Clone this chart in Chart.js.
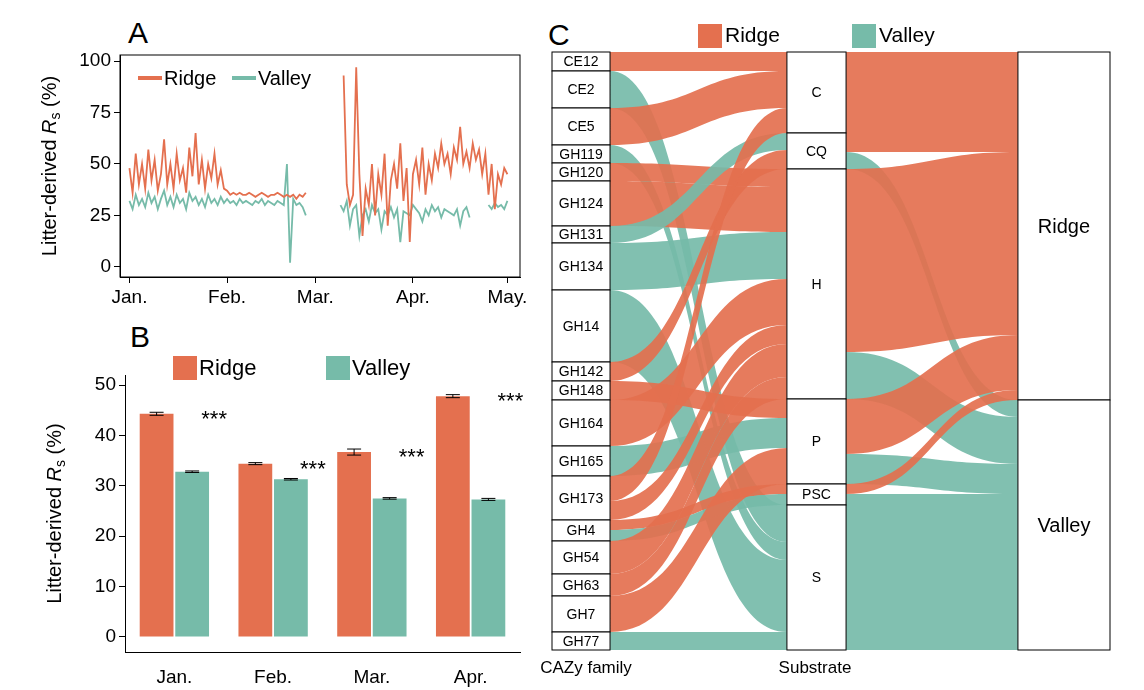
<!DOCTYPE html>
<html><head><meta charset="utf-8">
<script src="https://cdn.jsdelivr.net/npm/chart.js@4"></script>
<style>
body{margin:0;background:#fff;width:1144px;height:690px;overflow:hidden;font-family:Arial,"Liberation Sans",sans-serif}
canvas{position:absolute}
.lab{position:absolute;font-size:30px;color:#000}
</style></head><body>
<div class="lab" style="left:128px;top:16px">A</div>
<div class="lab" style="left:130px;top:320px">B</div>
<div class="lab" style="left:548px;top:18px">C</div>
<canvas id="cA" width="540" height="310" style="left:0;top:0"></canvas>
<canvas id="cB" width="540" height="370" style="left:0;top:320px"></canvas>
<canvas id="cC" width="614" height="690" style="left:530px;top:0"></canvas>
<script>
var RED = "#E4704F", TEAL = "#76BBA9";
var FONT = "Arial, 'Liberation Sans', sans-serif";

// ---- panel A: daily litter-derived Rs (day 0 = Jan 1)
var monthTicks = [0, 31, 59, 90, 120];
var monthLabels = ["Jan.", "Feb.", "Mar.", "Apr.", "May."];
var ridgeDaily = [48,36,55,40,50,38,57,42,52,37,45,62,40,50,38,55,42,48,36,58,44,65,40,52,38,50,43,55,40,47,38,
  37,35,36,35,36,35,35,36,35,34,35,36,35,34,35,35,36,35,34,35,34,35,33,35,34,36,
  null,null,null,null,null,null,null,null,null,null,null,
  93,40,30,35,97,45,15,38,30,50,25,45,35,55,20,42,50,38,60,32,48,12,45,52,40,58,35,50,42,55,
  48,60,50,55,45,58,52,68,50,56,48,60,52,57,45,55,35,50,28,45,40,48,45];
var valleyDaily = [32,28,35,30,33,29,36,31,34,28,33,37,30,34,29,35,31,33,28,36,32,34,30,33,29,35,31,33,30,34,31,
  33,31,32,30,33,31,32,31,30,32,31,33,30,32,31,30,32,31,30,50,2,33,30,31,29,25,
  null,null,null,null,null,null,null,null,null,null,
  30,27,32,20,28,30,15,25,28,22,30,26,28,18,27,25,29,24,28,12,27,26,25,30,28,26,22,28,25,30,
  27,29,24,28,27,26,25,28,20,27,29,24,null,null,null,null,null,30,28,31,29,30,28,32];

// ---- panel B: monthly means
var months = ["Jan.", "Feb.", "Mar.", "Apr."];
var ridgeMean = [44.3, 34.4, 36.7, 47.8];
var ridgeErr = [0.3, 0.2, 0.6, 0.3];
var valleyMean = [32.8, 31.3, 27.5, 27.3];
var valleyErr = [0.15, 0.15, 0.15, 0.2];
var signif = ["***", "***", "***", "***"];

// ---- panel C: CAZy family -> substrate -> site
var families = ["CE12","CE2","CE5","GH119","GH120","GH124","GH131","GH134","GH14","GH142","GH148","GH164","GH165","GH173","GH4","GH54","GH63","GH7","GH77"];
var substrates = ["C","CQ","H","P","PSC","S"];
var sites = ["Ridge","Valley"];
var flowFamily =    ["CE12","CE2","CE5","GH119","GH120","GH124","GH131","GH134","GH14","GH142","GH148","GH164","GH165","GH173","GH173","GH4","GH4","GH54","GH63","GH7","GH77"];
var flowSubstrate = ["C","S","C","S","H","H","CQ","H","S","CQ","P","H","P","C","H","PSC","PSC","H","H","P","S"];
var flowSite =      ["Ridge","Valley","Ridge","Valley","Ridge","Ridge","Valley","Valley","Valley","Ridge","Ridge","Ridge","Valley","Ridge","Ridge","Ridge","Valley","Ridge","Ridge","Ridge","Valley"];
var flowValue =     [19,37,37,18,18,45,17,47,72,19,19,46,30,25,19,10,11,33,22,36,18];

function yTitle(ctx, x, y) {
  ctx.save();
  ctx.translate(x, y); ctx.rotate(-Math.PI/2);
  ctx.fillStyle = "#000"; ctx.textBaseline = "middle";
  var parts = [["20px " + FONT, "Litter-derived ", 0], ["italic 20px " + FONT, "R", 0], ["14px " + FONT, "s", 6], ["20px " + FONT, " (%)", 0]];
  var w = 0;
  parts.forEach(function(p){ ctx.font = p[0]; w += ctx.measureText(p[1]).width; });
  var cx = -w/2;
  parts.forEach(function(p){ ctx.font = p[0]; ctx.fillText(p[1], cx, p[2]); cx += ctx.measureText(p[1]).width; });
  ctx.restore();
}

var tickFont = {family: FONT, size: 19};

// ===== A
var ptsR = ridgeDaily.map(function(v,i){ return {x:i, y:v}; });
var ptsV = valleyDaily.map(function(v,i){ return {x:i, y:v}; });
new Chart("cA", {
  type: "line",
  data: {datasets: [
    {label:"Ridge", data: ptsR, borderColor: RED, borderWidth: 1.8, pointRadius: 0, tension: 0, spanGaps: false},
    {label:"Valley", data: ptsV, borderColor: TEAL, borderWidth: 1.8, pointRadius: 0, tension: 0, spanGaps: false}
  ]},
  options: {
    responsive: false, animation: false, devicePixelRatio: 1,
    layout: {padding: {left: 40, right: 20, top: 55}},
    plugins: {legend: {display: false}, tooltip: {enabled: false}},
    scales: {
      x: {type: "linear", min: -3, max: 124, grid: {drawOnChartArea: false, color: "#000", tickLength: 6},
        border: {color: "#000"},
        afterBuildTicks: function(s){ s.ticks = monthTicks.map(function(v){ return {value: v}; }); },
        afterFit: function(s){ s.height = 33; },
        ticks: {color: "#000", font: tickFont, maxRotation: 0, autoSkip: false, callback: function(v){ return monthLabels[monthTicks.indexOf(v)]; }}},
      y: {min: -5, max: 103, grid: {drawOnChartArea: false, color: "#000", tickLength: 6}, border: {color: "#000"},
        afterBuildTicks: function(s){ s.ticks = [0,25,50,75,100].map(function(v){ return {value: v}; }); },
        afterFit: function(s){ s.width = 80; },
        ticks: {color: "#000", font: tickFont}}
    }
  },
  plugins: [{id: "decoA", afterDraw: function(c){
    var ctx = c.ctx, a = c.chartArea;
    ctx.save(); ctx.strokeStyle = "#000"; ctx.lineWidth = 1;
    ctx.strokeRect(a.left, a.top, a.right - a.left, a.bottom - a.top);
    ctx.font = "20px " + FONT; ctx.textBaseline = "middle"; ctx.fillStyle = "#000";
    ctx.lineWidth = 4;
    ctx.strokeStyle = RED; ctx.beginPath(); ctx.moveTo(138, 78); ctx.lineTo(162, 78); ctx.stroke();
    ctx.fillText("Ridge", 164, 79);
    ctx.strokeStyle = TEAL; ctx.beginPath(); ctx.moveTo(232, 78); ctx.lineTo(256, 78); ctx.stroke();
    ctx.fillText("Valley", 258, 79);
    ctx.restore();
    yTitle(ctx, 50, (a.top + a.bottom)/2);
  }}]
});

// ===== B
new Chart("cB", {
  type: "bar",
  data: {labels: months, datasets: [
    {label: "Ridge", data: ridgeMean, backgroundColor: RED},
    {label: "Valley", data: valleyMean, backgroundColor: TEAL}
  ]},
  options: {
    responsive: false, animation: false, devicePixelRatio: 1,
    layout: {padding: {left: 40, right: 20, top: 55}},
    categoryPercentage: 0.72, barPercentage: 0.95,
    plugins: {legend: {display: false}, tooltip: {enabled: false}},
    scales: {
      x: {grid: {display: false, color: "#000", tickLength: 6}, border: {color: "#000"},
        afterFit: function(s){ s.height = 38; },
        ticks: {color: "#000", font: tickFont, padding: 8, maxRotation: 0}},
      y: {min: -3, max: 52, grid: {drawOnChartArea: false, color: "#000", tickLength: 6}, border: {color: "#000"},
        afterBuildTicks: function(s){ s.ticks = [0,10,20,30,40,50].map(function(v){ return {value: v}; }); },
        afterFit: function(s){ s.width = 85; },
        ticks: {color: "#000", font: tickFont}}
    }
  },
  plugins: [{id: "decoB", afterDatasetsDraw: function(c){
    var ctx = c.ctx, a = c.chartArea, ys = c.scales.y;
    ctx.save(); ctx.strokeStyle = "#000"; ctx.lineWidth = 1;
    [[0, ridgeMean, ridgeErr], [1, valleyMean, valleyErr]].forEach(function(d){
      c.getDatasetMeta(d[0]).data.forEach(function(b, i){
        var t = ys.getPixelForValue(d[1][i] + d[2][i]), btm = ys.getPixelForValue(d[1][i] - d[2][i]);
        ctx.beginPath();
        ctx.moveTo(b.x - 7, t); ctx.lineTo(b.x + 7, t);
        ctx.moveTo(b.x - 7, btm); ctx.lineTo(b.x + 7, btm);
        ctx.moveTo(b.x, t); ctx.lineTo(b.x, btm); ctx.stroke();
      });
    });
    ctx.fillStyle = "#000"; ctx.font = "22px " + FONT; ctx.textAlign = "center";
    c.getDatasetMeta(1).data.forEach(function(b, i){
      var top = Math.max(ridgeMean[i], valleyMean[i]);
      ctx.fillText(signif[i], b.x + 22, ys.getPixelForValue(top) + 12);
    });
    ctx.textAlign = "left"; ctx.textBaseline = "middle";
    ctx.fillStyle = RED; ctx.fillRect(173, 36, 24, 24);
    ctx.fillStyle = TEAL; ctx.fillRect(326, 36, 24, 24);
    ctx.fillStyle = "#000";
    ctx.fillText("Ridge", 199, 49); ctx.fillText("Valley", 352, 49);
    ctx.restore();
    yTitle(ctx, 55, (a.top + a.bottom)/2);
  }}]
});

// ===== C
var colX = [[0, 1.04], [4.21, 5.27], [8.35, 10]];
function totals(keys, field) {
  var t = {};
  keys.forEach(function(k){ t[k] = 0; });
  flowValue.forEach(function(v, i){ t[field[i]] += v; });
  return t;
}
var famTot = totals(families, flowFamily), subTot = totals(substrates, flowSubstrate), siteTot = totals(sites, flowSite);
var grand = flowValue.reduce(function(a, b){ return a + b; }, 0);

new Chart("cC", {
  type: "scatter",
  data: {datasets: [{data: []}]},
  options: {
    responsive: false, animation: false, devicePixelRatio: 1,
    layout: {padding: {left: 22, right: 34, top: 52, bottom: 40}},
    plugins: {legend: {display: false}, tooltip: {enabled: false}},
    scales: {
      x: {type: "linear", min: 0, max: 10, display: false},
      y: {min: 0, max: grand, reverse: true, display: false}
    }
  },
  plugins: [{id: "alluvial", afterDatasetsDraw: function(c){
    var ctx = c.ctx, xs = c.scales.x, ys = c.scales.y;
    function starts(keys, tot){ var s = {}, acc = 0; keys.forEach(function(k){ s[k] = acc; acc += tot[k]; }); return s; }
    var famS = starts(families, famTot), subS = starts(substrates, subTot), siteS = starts(sites, siteTot);
    function ribbon(x0, a0, x1, a1, v, col){
      var px0 = xs.getPixelForValue(x0), px1 = xs.getPixelForValue(x1), mx = (px0 + px1)/2;
      var t0 = ys.getPixelForValue(a0), b0 = ys.getPixelForValue(a0 + v);
      var t1 = ys.getPixelForValue(a1), b1 = ys.getPixelForValue(a1 + v);
      ctx.beginPath();
      ctx.moveTo(px0, t0); ctx.bezierCurveTo(mx, t0, mx, t1, px1, t1);
      ctx.lineTo(px1, b1); ctx.bezierCurveTo(mx, b1, mx, b0, px0, b0);
      ctx.closePath(); ctx.fillStyle = col; ctx.globalAlpha = 0.92; ctx.fill(); ctx.globalAlpha = 1;
    }
    ctx.save();
    var famOff = {}, subInOff = {};
    families.forEach(function(k){ famOff[k] = famS[k]; });
    substrates.forEach(function(k){ subInOff[k] = subS[k]; });
    var order = flowValue.map(function(v, i){ return i; });
    order.sort(function(a, b){ return families.indexOf(flowFamily[a]) - families.indexOf(flowFamily[b]); });
    order.forEach(function(i){
      var f = flowFamily[i], s = flowSubstrate[i], v = flowValue[i];
      ribbon(colX[0][1], famOff[f], colX[1][0], subInOff[s], v, flowSite[i] === "Ridge" ? RED : TEAL);
      famOff[f] += v; subInOff[s] += v;
    });
    var pair = {};
    flowValue.forEach(function(v, i){ var k = flowSubstrate[i] + "|" + flowSite[i]; pair[k] = (pair[k] || 0) + v; });
    var subOutOff = {}, siteOff = {};
    substrates.forEach(function(k){ subOutOff[k] = subS[k]; });
    sites.forEach(function(k){ siteOff[k] = siteS[k]; });
    var links = [];
    substrates.forEach(function(s){ sites.forEach(function(t){
      var v = pair[s + "|" + t]; if (!v) return;
      links.push({s: s, t: t, v: v, a0: subOutOff[s]}); subOutOff[s] += v;
    }); });
    sites.forEach(function(t){ links.filter(function(l){ return l.t === t; }).forEach(function(l){ l.a1 = siteOff[t]; siteOff[t] += l.v; }); });
    links.forEach(function(l){ ribbon(colX[1][1], l.a0, colX[2][0], l.a1, l.v, l.t === "Ridge" ? RED : TEAL); });
    function nodes(keys, st, tot, col, size){
      var x0 = xs.getPixelForValue(col[0]), x1 = xs.getPixelForValue(col[1]);
      keys.forEach(function(k){
        var t = ys.getPixelForValue(st[k]), b = ys.getPixelForValue(st[k] + tot[k]);
        ctx.fillStyle = "#fff"; ctx.fillRect(x0, t, x1 - x0, b - t);
        ctx.strokeStyle = "#000"; ctx.lineWidth = 1; ctx.strokeRect(x0, t, x1 - x0, b - t);
        ctx.fillStyle = "#000"; ctx.font = size + "px " + FONT; ctx.textAlign = "center"; ctx.textBaseline = "middle";
        ctx.fillText(k, (x0 + x1)/2, (t + b)/2 + 1);
      });
    }
    nodes(families, famS, famTot, colX[0], 14);
    nodes(substrates, subS, subTot, colX[1], 14);
    nodes(sites, siteS, siteTot, colX[2], 20);
    ctx.textAlign = "left"; ctx.textBaseline = "middle"; ctx.font = "21px " + FONT;
    ctx.fillStyle = RED; ctx.fillRect(168, 24, 24, 24);
    ctx.fillStyle = TEAL; ctx.fillRect(322, 24, 24, 24);
    ctx.fillStyle = "#000";
    ctx.fillText("Ridge", 195, 36); ctx.fillText("Valley", 349, 36);
    ctx.font = "17px " + FONT; ctx.textAlign = "center";
    ctx.fillText("CAZy family", 56, 668); ctx.fillText("Substrate", 285, 668);
    ctx.restore();
  }}]
});
</script>
</body></html>
